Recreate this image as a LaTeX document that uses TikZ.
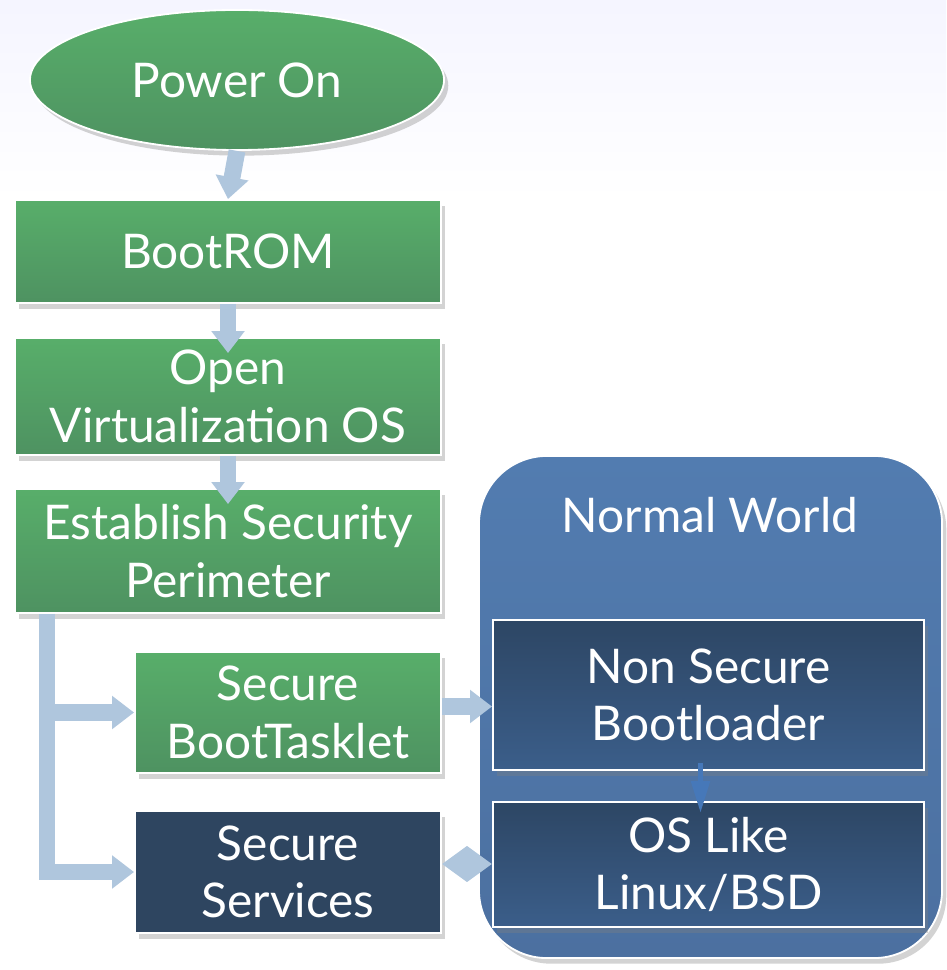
\documentclass[tikz,border=0pt]{standalone}
\usepackage{fontspec}
\setmainfont{Lato}
\usetikzlibrary{positioning, shapes.geometric, arrows.meta, shadows, calc}

\definecolor{greentop}{RGB}{88,174,106}
\definecolor{greenbot}{RGB}{78,146,97}
\definecolor{navy}{RGB}{46,69,96}
\definecolor{navytop}{RGB}{45,70,100}
\definecolor{navybot}{RGB}{59,94,138}
\definecolor{worldblue}{RGB}{82,124,176}
\definecolor{worldbot}{RGB}{76,112,160}
\definecolor{flowblue}{RGB}{175,198,221}
\definecolor{stepblue}{RGB}{70,120,185}

\tikzset{
	box/.style={rectangle, draw=white, line width=1.3pt, text=white, align=center,
		font=\fontsize{34}{41}\selectfont,
		drop shadow={shadow xshift=3pt, shadow yshift=-4pt, opacity=0.35}},
	greenbox/.style={box, top color=greentop, bottom color=greenbot},
	navybox/.style={box, fill=navy},
	nsbox/.style={box, top color=navytop, bottom color=navybot},
	flow/.style={draw=flowblue, line width=0.42cm, line join=miter,
		-{Triangle[width=0.8cm, length=0.55cm]}},
}

\begin{document}
\begin{tikzpicture}[x=0.025cm, y=-0.025cm]
	
	\useasboundingbox (0,0) rectangle (946,970);
	\shade[top color=blue!4, bottom color=white] (0,0) rectangle (946,200);
	
	%Nodes
	\node (power) at (237,80) [ellipse, draw=white, line width=1.3pt, text=white,
	top color=greentop, bottom color=greenbot, minimum width=10.35cm, minimum height=3.5cm,
	font=\fontsize{34}{41}\selectfont,
	drop shadow={shadow xshift=3pt, shadow yshift=-4pt, opacity=0.35}]{Power On};
	
	\node (bootrom) at (228,251.5) [greenbox, minimum width=10.65cm, minimum height=2.575cm]{BootROM};
	
	\node (openvos) at (228,396.5) [greenbox, minimum width=10.65cm, minimum height=2.925cm]{Open\\Virtualization OS};
	
	\node (perimeter) at (228,551) [greenbox, minimum width=10.65cm, minimum height=3.1cm]{Establish Security\\Perimeter};
	
	\node (tasklet) at (288,712.5) [greenbox, minimum width=7.65cm, minimum height=3.025cm]{Secure\\BootTasklet};
	
	\node (services) at (288,872) [navybox, minimum width=7.65cm, minimum height=3.05cm]{Secure\\Services};
	
	\node (world) at (710.5,707) [rectangle, rounded corners=1.7cm, draw=white, line width=1.3pt,
	top color=worldblue, bottom color=worldbot, minimum width=11.575cm, minimum height=12.55cm,
	drop shadow={shadow xshift=3pt, shadow yshift=-4pt, opacity=0.35}]{};
	\node (worldtitle) at (710,515) [text=white, font=\fontsize{34}{41}\selectfont]{Normal World};
	
	\node (loader) at (708.5,695) [nsbox, minimum width=10.775cm, minimum height=3.75cm]{Non Secure\\Bootloader};
	
	\node (oslike) at (708.5,864.5) [nsbox, minimum width=10.775cm, minimum height=3.125cm]{OS Like\\Linux/BSD};
	
	%Links
	\draw[flow] (power.south) -- (bootrom.north);
	\draw[flow] (bootrom.south) -- ([yshift=-0.4cm]openvos.north);
	\draw[flow] (openvos.south) -- ([yshift=-0.4cm]perimeter.north);
	\coordinate (split) at (perimeter.south -| 47,0);
	\draw[flow] (split) |- (services.west);
	\draw[flow] (split |- tasklet.west) -- (tasklet.west);
	\draw[flow] ([yshift=0.15cm]tasklet.east) -- ([yshift=0.15cm]tasklet.east -| loader.west);
	\draw[draw=flowblue, line width=0.25cm, {Triangle[width=0.85cm, length=0.62cm]}-{Triangle[width=0.85cm, length=0.62cm]}]
	([yshift=0.2cm]services.east) -- ([yshift=0.2cm]services.east -| oslike.west);
	\draw[draw=stepblue, line width=0.13cm, -{Triangle[width=0.45cm, length=0.8cm]}]
	([xshift=-0.2cm, yshift=0.2cm]loader.south) -- ([xshift=-0.2cm, yshift=-0.3cm]oslike.north);
	
\end{tikzpicture}
\end{document}
